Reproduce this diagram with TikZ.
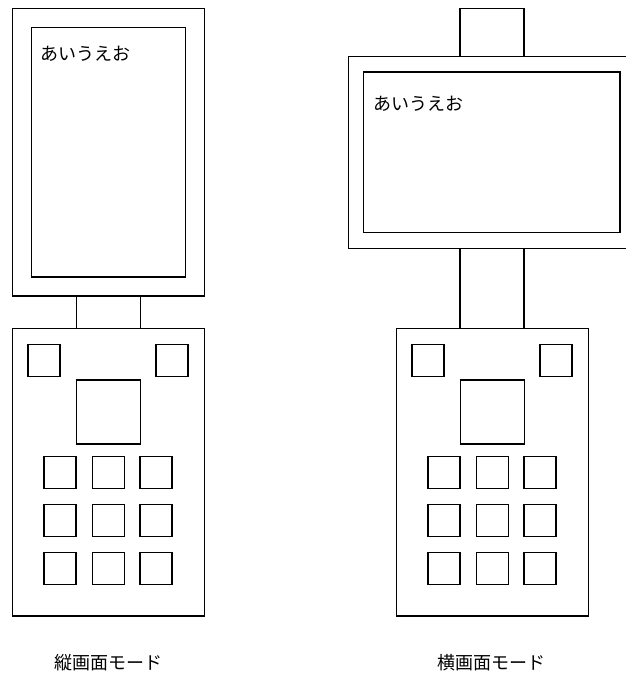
\documentclass[tikz,border=0pt]{standalone}
\usepackage{fontspec}
\newfontfamily\jp{Noto Sans CJK JP}
\begin{document}
\begin{tikzpicture}[x=1pt,y=-1pt,
  part/.style={draw=black, line width=1.5pt, inner sep=0pt, outer sep=0pt},
  key/.style={part, minimum width=32pt, minimum height=32pt},
  txt/.style={inner sep=0pt, font=\jp\fontsize{18pt}{20pt}\selectfont}]
\useasboundingbox (0,0) rectangle (626,675);
\clip (0,0) rectangle (626,675);
% ---------- left phone (portrait)
\node[part, minimum width=192pt, minimum height=287.7pt] (Lframe) at (108.3,152.2) {};
\node[part, minimum width=154pt, minimum height=249.3pt] (Lscreen) at (108.3,152.3) {};
\node[part, minimum width=64pt, minimum height=32.3pt] (Lhinge) at (108.3,312.2) {};
\node[part, minimum width=192pt, minimum height=287.7pt] (Lbody) at (108.3,472.2) {};
\node[txt, anchor=west] (Ltext) at (40,54) {あいうえお};
\node[key] (Lk1) at (44.2,360.5) {};
\node[key] (Lk2) at (172.2,360.5) {};
\node[part, minimum width=64pt, minimum height=64pt] (Lcenter) at (108.3,412) {};
\foreach \c/\x in {1/60.2,2/108.3,3/156.2}{
  \foreach \r/\y in {1/472.5,2/520.3,3/568.3}{
    \node[key] (Lkey\r\c) at (\x,\y) {};
  }
}
\node[txt] (Llabel) at (108.3,663) {縦画面モード};
% ---------- right phone (landscape)
\node[part, minimum width=64pt, minimum height=48.4pt] (Rtop) at (492,32.5) {};
\node[part, minimum width=64pt, minimum height=80pt] (Rhinge) at (492,288.3) {};
\node[part, minimum width=287pt, minimum height=191.6pt] (Rframe) at (491.8,152.5) {};
\node[part, minimum width=256.3pt, minimum height=160.3pt] (Rscreen) at (491.8,152.2) {};
\node[txt, anchor=west] (Rtext) at (373,104) {あいうえお};
\node[part, minimum width=192pt, minimum height=287.7pt] (Rbody) at (492.3,472.2) {};
\node[key] (Rk1) at (428.2,360.5) {};
\node[key] (Rk2) at (556.2,360.5) {};
\node[part, minimum width=64pt, minimum height=64pt] (Rcenter) at (492.3,412) {};
\foreach \c/\x in {1/444.2,2/492.3,3/540.2}{
  \foreach \r/\y in {1/472.5,2/520.3,3/568.3}{
    \node[key] (Rkey\r\c) at (\x,\y) {};
  }
}
\node[txt] (Rlabel) at (491,663) {横画面モード};
\end{tikzpicture}
\end{document}
